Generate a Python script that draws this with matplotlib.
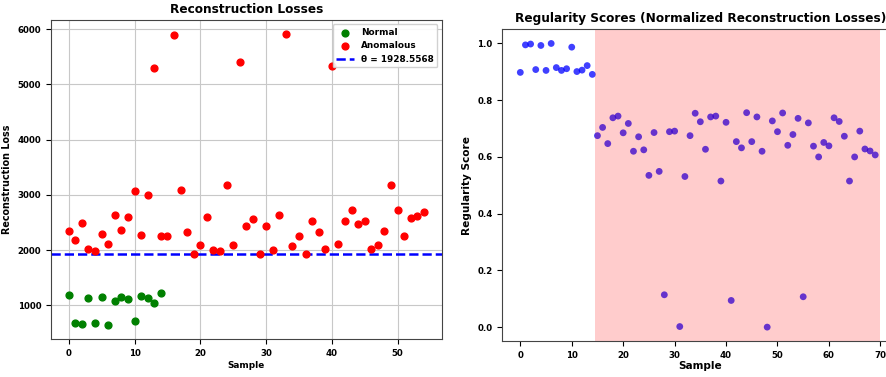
import matplotlib
matplotlib.use("Agg")
import matplotlib.pyplot as plt
import numpy as np

plt.rcParams['font.family'] = ['DejaVu Sans']
plt.rcParams['font.weight'] = 'bold'
plt.rcParams['axes.labelweight'] = 'bold'
plt.rcParams['axes.titleweight'] = 'bold'

# ---- data ----
normal_losses = [1183, 673, 655, 1129, 685, 1147, 649, 1087, 1147, 1111,
                 715, 1165, 1141, 1051, 1219]
anomalous_losses = [2342, 2192, 2486, 2012, 1982, 2288, 2120, 2630, 2360, 2595,
                    3069, 2276, 3003, 5300, 2264, 2252, 5890, 3093, 2336, 1928,
                    2090, 2595, 2000, 1988, 3177, 2102, 5402, 2444, 2559, 1922,
                    2444, 2000, 2630, 5903, 2072, 2258, 1928, 2522, 2324, 2018,
                    5335, 2108, 2528, 2727, 2474, 2522, 2018, 2084, 2348, 3171,
                    2733, 2258, 2589, 2625, 2697]
threshold = 1928.5568

regularity_scores = [0.898, 0.995, 0.998, 0.908, 0.993, 0.905, 1.000, 0.915, 0.905, 0.911,
                     0.987, 0.901, 0.906, 0.922, 0.891,
                     0.675, 0.704, 0.647, 0.738, 0.744, 0.685, 0.718, 0.620, 0.671, 0.625,
                     0.535, 0.686, 0.549, 0.114, 0.689, 0.691, 0.002, 0.531, 0.675, 0.754,
                     0.724, 0.627, 0.741, 0.744, 0.515, 0.722, 0.094, 0.654, 0.632, 0.756,
                     0.654, 0.741, 0.620, 0.000, 0.727, 0.689, 0.755, 0.641, 0.679, 0.736,
                     0.107, 0.720, 0.638, 0.600, 0.651, 0.639, 0.738, 0.725, 0.673, 0.515,
                     0.600, 0.691, 0.628, 0.621, 0.607]
n_normal = len(normal_losses)

fig = plt.figure(figsize=(8.87, 3.77), dpi=100)
ax1 = fig.add_axes([0.0575, 0.100, 0.4405, 0.847])
ax2 = fig.add_axes([0.5663, 0.0947, 0.4465, 0.8276])

# ---- left ----
ax1.scatter(np.arange(len(normal_losses)), normal_losses, color='green', s=24, label='Normal', zorder=3)
ax1.scatter(np.arange(len(anomalous_losses)), anomalous_losses, color='red', s=24, label='Anomalous', zorder=3)
ax1.axhline(threshold, color='blue', linestyle='--', linewidth=1.8, label=f'θ = {threshold:.4f}', zorder=2)
ax1.set_title('Reconstruction Losses', fontsize=8.7, pad=5)
ax1.set_xlabel('Sample', fontsize=6.4, labelpad=2)
ax1.set_ylabel('Reconstruction Loss', fontsize=6.9, labelpad=4)
ax1.grid(True, color='#c8c8c8', linewidth=0.8)
ax1.set_axisbelow(True)
ax1.tick_params(labelsize=6.2)
ax1.legend(loc='upper right', fontsize=6.4, framealpha=0.9)
for sp in ax1.spines.values():
    sp.set_color('#444444')

# ---- right ----
idx = np.arange(len(regularity_scores))
ax2.scatter(idx, regularity_scores, color='blue', alpha=0.75, s=24, edgecolors='none')
ax2.axvspan(n_normal - 0.5, len(regularity_scores), color='red', alpha=0.2, linewidth=0)
ax2.set_title('Regularity Scores (Normalized Reconstruction Losses)', fontsize=8.7, pad=5)
ax2.set_xlabel('Sample', fontsize=7.6, labelpad=1)
ax2.set_ylabel('Regularity Score', fontsize=7.6)
ax2.tick_params(labelsize=6.2)
for sp in ax2.spines.values():
    sp.set_color('#444444')

fig.savefig('out.png', dpi=100)
